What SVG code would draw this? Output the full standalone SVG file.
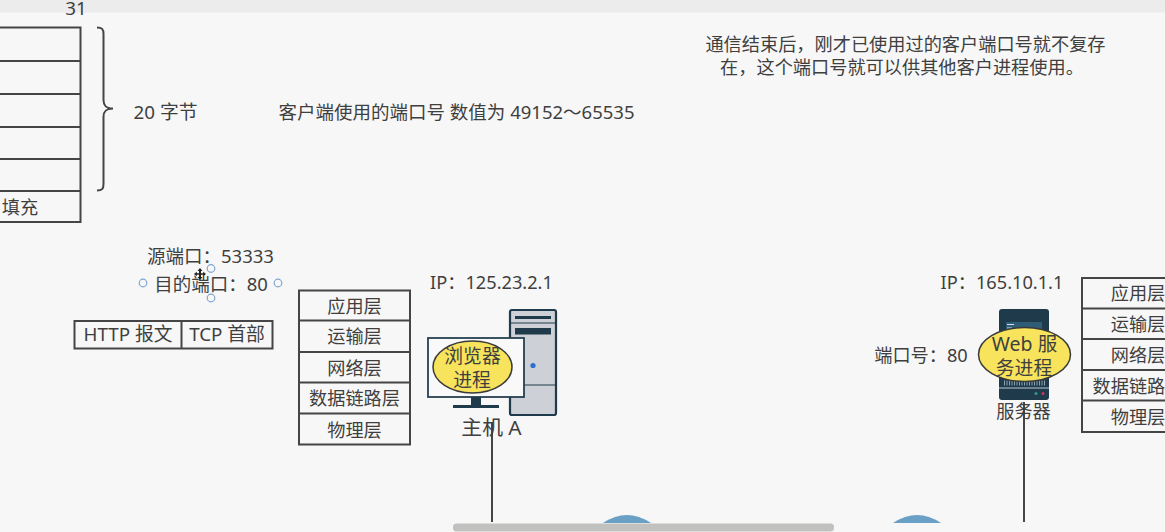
<svg xmlns="http://www.w3.org/2000/svg" width="1165" height="532" viewBox="0 0 1165 532">
<style>
text{font-family:"Noto Sans","Noto Sans CJK SC",sans-serif;fill:#3f3f3f;font-size:18.200px}
.m{text-anchor:middle}
.l18{font-size:18.500px}
.l19{font-size:18.800px}
.l20{font-size:19.500px}
.l21{font-size:20.800px}
.box{fill:none;stroke:#454545;stroke-width:2}
.line{fill:none;stroke:#454545;stroke-width:2}
.dk{fill:#1f3a4b}
.yl{fill:#f7e35c;stroke:#3a3a3a;stroke-width:1.500}
.h{fill:#f7f7f7;stroke:#7ea6d2;stroke-width:1.200}
.b{fill:#6ba0c6}
</style>
<rect width="1165" height="532" fill="#f7f7f7"/>
<rect width="1165" height="12.500" fill="#ececec"/>
<g id="header-table">
<text x="76" y="15" class="m l19">31</text>
<path class="box" d="M-2 27.500H80.500V222H-2M-2 61H80.500M-2 94H80.500M-2 127H80.500M-2 159H80.500M-2 191H80.500"/>
<text x="20" y="214" class="m">填充</text>
</g>
<g id="brace">
<path class="line" d="M97 27.500C102 27.500 103.500 29 103.500 34V100C103.500 106 106 108.500 113 108.500C106 108.500 103.500 111 103.500 117V184C103.500 189 102 190.500 97 190.500"/>
<text x="165.500" y="119" class="m l19">20 字节</text>
</g>
<g id="note-client-port"><text x="456.500" y="119" class="m l18">客户端使用的端口号 数值为 49152～65535</text></g>
<g id="note-release">
<text x="905.500" y="51" class="m">通信结束后，刚才已使用过的客户端口号就不复存</text>
<text x="902" y="74" class="m">在，这个端口号就可以供其他客户进程使用。</text>
</g>
<g id="ports-label">
<text x="210.500" y="263" class="m l18">源端口：53333</text>
<text x="211" y="291" class="m l18">目的端口：80</text>
<circle class="h" cx="143" cy="283" r="3.800"/>
<circle class="h" cx="278" cy="283" r="3.800"/>
<circle class="h" cx="211" cy="268.500" r="3.800"/>
<circle class="h" cx="211" cy="298" r="3.800"/>
<path d="M200 268L202.500 271H201V273.200H203.200V271.700L206 274L203.200 276.300V274.800H201V277H202.500L200 280L197.500 277H199V274.800H196.800V276.300L194 274L196.800 271.700V273.200H199V271H197.500Z" fill="#222"/>
</g>
<g id="segment">
<rect class="box" x="74.500" y="321" width="198" height="27.500"/>
<path class="box" d="M181.500 321V348.500"/>
<text x="128" y="341" class="m l19">HTTP 报文</text>
<text x="227" y="341" class="m l19">TCP 首部</text>
</g>
<g id="stack-a">
<path class="box" d="M299 290.500H410V444.500H299ZM299 320.500H410M299 352H410M299 382.500H410M299 413.500H410"/>
<text x="354.500" y="313" class="m">应用层</text>
<text x="354.500" y="343" class="m">运输层</text>
<text x="354.500" y="374.500" class="m">网络层</text>
<text x="354.500" y="405" class="m">数据链路层</text>
<text x="354.500" y="436.500" class="m">物理层</text>
</g>
<g id="connectors">
<path class="line" d="M492 422V522M1024 402V522"/>
</g>
<g id="host-a">
<text x="491.500" y="289" class="m">IP：125.23.2.1</text>
<rect x="510" y="310" width="46" height="105" rx="2" fill="#cdd0d6" stroke="#1f3a4b" stroke-width="2.200"/>
<path d="M510 323H556M510 385H556" stroke="#1f3a4b" fill="none"/>
<rect class="dk" x="515" y="316" width="36" height="3"/>
<rect class="dk" x="515" y="328" width="36" height="6.500"/>
<circle cx="533" cy="365.500" r="2.600" fill="#2f6fd0"/>
<rect x="428" y="338" width="96" height="59" fill="#f9f9f9" stroke="#26404f" stroke-width="1.800"/>
<rect class="dk" x="471" y="397" width="10" height="8"/>
<rect class="dk" x="453" y="405" width="46" height="3"/>
<ellipse class="yl" cx="472.500" cy="367" rx="39.500" ry="26"/>
<text x="472.500" y="363" class="m l19">浏览器</text>
<text x="472" y="387" class="m l19">进程</text>
<text x="491.500" y="435" class="m l21">主机 A</text>
</g>
<g id="server">
<text x="1002" y="289" class="m">IP：165.10.1.1</text>
<text x="921" y="362" class="m">端口号：80</text>
<rect class="dk" x="999" y="309" width="50" height="91" rx="3"/>
<rect x="1006" y="322" width="36" height="12" fill="#2f5d78"/>
<path d="M1007 324.500H1014M1007 328H1012" stroke="#cfe0ea" stroke-width="1" fill="none"/>
<path d="M999 388H1049" stroke="#b9cad4" stroke-width="1.200" fill="none"/>
<path d="M1004 383H1045" stroke="#8ea2ae" stroke-width="5" stroke-dasharray="1 1.500" fill="none"/>
<circle cx="1036" cy="393.500" r="1.500" fill="#2a9d8f"/>
<circle cx="1043" cy="393.500" r="1.500" fill="#d0345a"/>
<ellipse class="yl" cx="1024.500" cy="354.500" rx="46" ry="27"/>
<text x="1024.500" y="351" class="m l20">Web 服</text>
<text x="1024" y="375" class="m l19">务进程</text>
<text x="1023.500" y="418" class="m">服务器</text>
</g>
<g id="stack-b">
<path class="box" d="M1167 278H1082V432H1167M1082 308.500H1167M1082 339H1167M1082 370H1167M1082 400.500H1167"/>
<text x="1138" y="300" class="m">应用层</text>
<text x="1138" y="331" class="m">运输层</text>
<text x="1138" y="362" class="m">网络层</text>
<text x="1138" y="393" class="m">数据链路层</text>
<text x="1138" y="424" class="m">物理层</text>
</g>
<g id="clouds">
<path class="b" d="M603 523Q627 507 651 523Z"/>
<path class="b" d="M893 523Q917 507 941 523Z"/>
</g>
<rect id="scrollbar" x="453" y="523.500" width="381" height="8" rx="3.500" fill="#c1c1bf"/>
</svg>
